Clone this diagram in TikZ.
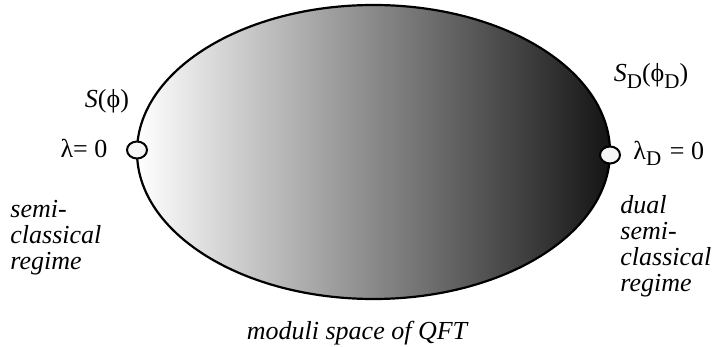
\documentclass[tikz,border=0pt]{standalone}
\usepackage{fontspec}
\setmainfont{Liberation Serif}
\usetikzlibrary{shapes.geometric}
\newcommand\lowidx[1]{\raisebox{-0.24em}{\fontsize{10.5}{10.5}\selectfont #1}}
\tikzset{
  txt/.style={font=\fontsize{13}{13}\selectfont, inner sep=0pt},
  note/.style={txt, font=\fontsize{13}{13}\selectfont\itshape, align=left},
  point/.style={draw=black, line width=1pt, fill=gray!8, ellipse, minimum width=10pt, minimum height=8.5pt, inner sep=0pt}
}

\begin{document}
\begin{tikzpicture}[x=0.5pt, y=-0.5pt]
  \useasboundingbox (0,0) rectangle (713,347);
  % moduli space
  \shade[left color=white, right color=black!92, draw=black, line width=1.1pt] (373.5,152) ellipse [x radius=236.5, y radius=147];

  \node[point] (weak) at (137,150) {};
  \node[point] (dualweak) at (610,155) {};

  \node[txt] (action) at (107,101) {\textit{S}(ϕ)};
  \node[txt] (coupling) at (84,148) {λ= 0};
  \node[txt] (dualaction) at (651,76) {\textit{S}\lowidx{D}(ϕ\lowidx{D})};
  \node[txt, anchor=west] (dualcoupling) at (633,153) {λ\lowidx{D}\,\,= 0};

  \node[note, anchor=west] (regime) at (10,238) {semi-\\classical\\regime};
  \node[note, anchor=west] (dualregime) at (620,246) {dual\\semi-\\classical\\regime};
  \node[note] (moduli) at (357,333) {moduli space of QFT};
\end{tikzpicture}
\end{document}
